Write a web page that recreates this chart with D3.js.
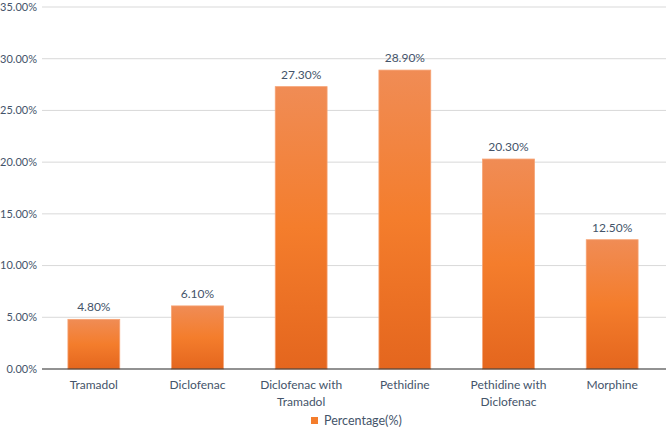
<!DOCTYPE html>
<html>
<head>
<meta charset="utf-8">
<script src="https://cdn.jsdelivr.net/npm/d3@7"></script>
<style>
  body { margin: 0; background: #fff; }
  text { font-family: Lato, "Open Sans", sans-serif; fill: #44546A; }
</style>
</head>
<body>
<svg id="chart" width="666" height="430"></svg>
<script>
const categories = ["Tramadol", "Diclofenac", "Diclofenac with Tramadol", "Pethidine", "Pethidine with Diclofenac", "Morphine"];
const values = [4.8, 6.1, 27.3, 28.9, 20.3, 12.5];
const yTicks = [0, 5, 10, 15, 20, 25, 30, 35];
const seriesName = "Percentage(%)";

const w = 666, h = 430;
const plotLeft = 42, plotRight = 664, plotTop = 7, plotBottom = 369;

const svg = d3.select("#chart");

const defs = svg.append("defs");
const grad = defs.append("linearGradient")
  .attr("id", "barGrad").attr("x1", 0).attr("y1", 0).attr("x2", 0).attr("y2", 1);
grad.append("stop").attr("offset", "0%").attr("stop-color", "#F08C55");
grad.append("stop").attr("offset", "50%").attr("stop-color", "#F47D2C");
grad.append("stop").attr("offset", "100%").attr("stop-color", "#E4661E");

const x = d3.scaleBand().domain(categories).range([plotLeft, plotRight]).paddingInner(0.5).paddingOuter(0.25);
const y = d3.scaleLinear().domain([0, 35]).range([plotBottom, plotTop]);

// gridlines
svg.append("g")
  .selectAll("line")
  .data(yTicks.filter(d => d > 0))
  .enter().append("line")
  .attr("x1", plotLeft).attr("x2", w)
  .attr("y1", d => y(d)).attr("y2", d => y(d))
  .attr("stroke", "#D9D9D9").attr("stroke-width", 1);

// y labels
svg.append("g")
  .selectAll("text")
  .data(yTicks)
  .enter().append("text")
  .attr("x", 37).attr("y", d => y(d))
  .attr("dy", "0.35em")
  .attr("text-anchor", "end")
  .attr("font-size", 11)
  .text(d => d.toFixed(2) + "%");

// bars
svg.append("g")
  .selectAll("rect")
  .data(values)
  .enter().append("rect")
  .attr("x", (d, i) => x(categories[i]))
  .attr("y", d => y(d))
  .attr("width", x.bandwidth())
  .attr("height", d => y(0) - y(d))
  .attr("fill", "url(#barGrad)")
  .attr("stroke", "#F6A273")
  .attr("stroke-width", 0.8);

// value labels
svg.append("g")
  .selectAll("text")
  .data(values)
  .enter().append("text")
  .attr("x", (d, i) => x(categories[i]) + x.bandwidth() / 2)
  .attr("y", d => y(d) - 8)
  .attr("text-anchor", "middle")
  .attr("font-size", 12)
  .text(d => d.toFixed(2) + "%");

// baseline
svg.append("line")
  .attr("x1", plotLeft).attr("x2", w)
  .attr("y1", y(0)).attr("y2", y(0))
  .attr("stroke", "#262626").attr("stroke-width", 1.2);

// category labels (wrap two-line names)
const catG = svg.append("g");
categories.forEach(c => {
  let lines = [c];
  const m = c.indexOf(" with");
  if (m > 0) lines = [c.slice(0, m + 5), c.slice(m + 6)];
  const t = catG.append("text")
    .attr("x", x(c) + x.bandwidth() / 2)
    .attr("y", 389)
    .attr("text-anchor", "middle")
    .attr("font-size", 12);
  lines.forEach((l, j) => {
    t.append("tspan").attr("x", x(c) + x.bandwidth() / 2).attr("dy", j ? 17 : 0).text(l);
  });
});

// legend
const lg = svg.append("g").attr("transform", "translate(311,417)");
lg.append("rect").attr("width", 7).attr("height", 7).attr("fill", "#F47D2C");
lg.append("text").attr("x", 13).attr("y", 4).attr("dy", "0.35em").attr("font-size", 12.5).text(seriesName);
</script>
</body>
</html>
